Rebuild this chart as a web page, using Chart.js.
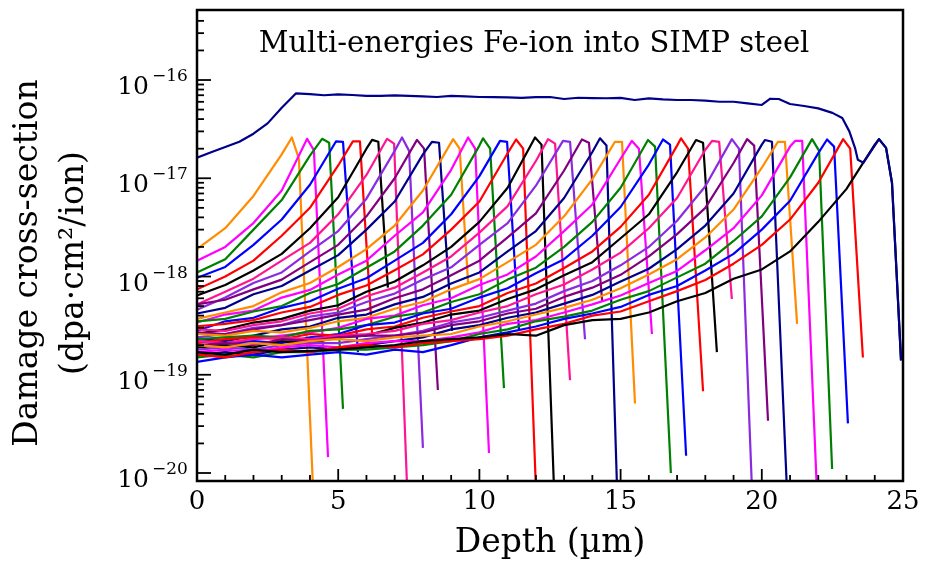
<!DOCTYPE html>
<html>
<head>
<meta charset="utf-8">
<script src="https://cdn.jsdelivr.net/npm/chart.js@4.4.1/dist/chart.umd.min.js"></script>
<style>
  html, body { margin: 0; padding: 0; background: #fff; }
  canvas { display: block; }
</style>
</head>
<body>
<canvas id="chart" width="930" height="567"></canvas>
<script>
// all damage values below are in units of 1e-19 dpa·cm²/ion
const UNIT = 1e-19;

const titleText = "Multi-energies Fe-ion into SIMP steel";
const xTitle = "Depth (µm)";
const yTitle = ["Damage cross-section", "(dpa·cm²/ion)"];
const xTickValues = [0, 5, 10, 15, 20, 25];
const yTickExponents = [-20, -19, -18, -17, -16];

// depth of the values in eNN arrays (µm)
const depthGrid = [0, 1, 2, 3, 4, 5, 6, 7, 8, 9, 10, 11, 12, 13, 14, 15, 16, 17, 18, 19, 20, 21, 22, 23, 24];

// single energy curves, before the Bragg peak
const e01 = [19, 31, 66, 175];
const e02 = [14.5, 20, 35, 75];
const e03 = [11, 15, 30, 60, 170];
const e04 = [9.7, 12.5, 21, 38, 86];
const e05 = [7.4, 10, 14.5, 26, 50, 135];
const e06 = [6.4, 8.2, 11.5, 17, 31, 64, 200];
const e07 = [5.2, 7.0, 9.5, 14.5, 22, 43, 108];
const e08 = [4.6, 6.1, 8.6, 11, 18, 29, 62, 190];
const e09 = [5.2, 5.8, 7.4, 9.3, 14, 21, 41, 100];
const e10 = [4.2, 4.8, 6.6, 8.0, 11.5, 16.5, 30, 58, 175];
const e11 = [3.7, 4.3, 5.0, 6.9, 8.6, 12.5, 19, 33, 75];
const e12 = [3.4, 4.1, 4.5, 6.1, 7.3, 10.5, 14.5, 26, 45, 122];
const e13 = [3.5, 3.7, 4.4, 5.0, 6.8, 8.4, 12.3, 18, 33, 68, 215];
const e14 = [2.8, 3.5, 3.8, 4.8, 5.6, 7.5, 9.6, 14.5, 22, 43, 105];
const e15 = [3.1, 3.3, 3.6, 4.3, 4.9, 6.5, 8.1, 11.6, 16.8, 30, 58, 180];
const e16 = [2.6, 2.9, 3.4, 3.7, 4.5, 5.1, 7.0, 8.9, 13, 20, 36, 80];
const e17 = [2.9, 2.8, 3.2, 3.5, 4.2, 4.7, 6.3, 7.7, 11, 16, 28, 52, 150];
const e18 = [2.4, 2.6, 3.0, 3.2, 3.9, 4.3, 5.5, 6.7, 9.3, 12.4, 21, 35, 84];
const e19 = [2.7, 2.6, 2.9, 3.2, 3.6, 4.1, 4.6, 6.0, 7.4, 10.3, 14.5, 25, 44, 120];
const e20 = [2.3, 2.2, 2.5, 2.9, 3.1, 3.8, 4.1, 5.2, 6.2, 8.5, 11, 18, 29, 63, 185];
const e21 = [2.6, 2.5, 2.8, 2.7, 3.0, 3.5, 3.8, 4.7, 5.5, 7.4, 9.4, 14, 21, 41, 98];
const e22 = [2.2, 2.1, 2.3, 2.5, 2.7, 3.0, 3.7, 4.0, 5.1, 6.0, 8.2, 10.5, 16, 29, 54, 158];
const e23 = [2.3, 2.4, 2.5, 2.4, 2.8, 2.9, 3.2, 3.9, 4.3, 5.5, 6.6, 9.3, 12.3, 20, 36, 80];
const e24 = [1.9, 2.1, 2.2, 2.1, 2.4, 2.6, 3.2, 3.4, 4.2, 4.7, 6.1, 7.6, 10.8, 15, 26, 51, 138];
const e25 = [2.1, 2.3, 2.4, 2.3, 2.6, 2.5, 2.9, 3.1, 3.8, 4.4, 5.0, 6.8, 8.5, 12.2, 18, 32, 68, 215];
const e26 = [1.9, 2.0, 1.9, 2.2, 2.1, 2.4, 2.5, 3.0, 3.4, 4.1, 4.5, 5.9, 7.4, 10.3, 14, 24.5, 43, 115];
const e27 = [2.2, 2.1, 2.3, 2.4, 2.3, 2.5, 2.6, 2.8, 3.3, 3.6, 4.3, 5.0, 6.6, 8.3, 11.8, 17.5, 31, 63, 195];
const e28 = [1.8, 1.9, 1.8, 2.0, 2.1, 2.1, 2.3, 2.5, 2.8, 3.4, 3.8, 4.5, 5.3, 7.1, 9.0, 13, 20, 37, 83];
const e29 = [2.0, 2.1, 2.0, 2.3, 2.2, 2.4, 2.5, 2.5, 2.7, 3.2, 3.5, 4.2, 4.7, 6.2, 7.7, 10.4, 16, 27, 50, 143];
const e30 = [1.6, 1.7, 1.6, 1.8, 1.9, 1.8, 2.0, 2.2, 2.4, 2.9, 3.2, 3.8, 4.3, 5.3, 6.5, 8.9, 12, 19, 33, 70, 220];
const e31 = [2.0, 1.9, 2.1, 2.0, 2.2, 2.3, 2.2, 2.4, 2.5, 2.6, 3.1, 3.5, 4.1, 4.8, 5.8, 7.6, 10.5, 15, 25, 48, 128];
const e32 = [1.7, 1.8, 1.7, 1.9, 2.0, 1.9, 2.1, 2.2, 2.2, 2.4, 2.7, 3.3, 3.6, 4.3, 5.2, 6.4, 8.6, 11.4, 18.5, 31, 67, 210];
const e33 = [1.5, 1.6, 1.5, 1.7, 1.7, 1.8, 1.8, 1.9, 2.0, 2.2, 2.6, 2.9, 3.5, 3.9, 4.5, 5.8, 7.1, 9.8, 13.5, 23, 41, 102];
const e34 = [1.35, 1.5, 1.6, 1.5, 1.6, 1.7, 1.6, 1.8, 1.7, 2.0, 2.4, 2.7, 3.1, 3.7, 4.2, 4.9, 6.5, 8.0, 11.5, 17, 30, 59, 180];
const e35 = [1.6, 1.5, 1.7, 1.8, 1.7, 1.9, 2.0, 1.9, 2.1, 2.2, 2.3, 2.5, 2.9, 3.3, 4.0, 4.4, 5.6, 7.1, 9.2, 13.5, 21, 38, 90];
const e36 = [1.7, 1.6, 1.8, 1.7, 1.75, 1.8, 1.9, 2.0, 2.2, 2.3, 2.4, 2.6, 2.5, 3.2, 3.6, 3.7, 4.3, 5.6, 6.8, 9.5, 11.8, 18, 36, 78, 220];

// peak and fall-off of each curve: depths (µm) and values
const tailDepth = [
  [3.36, 3.61, 4.13], [3.90, 4.14, 4.64], [4.43, 4.68, 5.17], [4.92, 5.17, 5.70],
  [5.52, 5.77, 6.20], [6.20, 6.42, 6.76], [6.73, 6.98, 7.46], [7.26, 7.51, 8.00],
  [7.79, 8.04, 8.53], [8.32, 8.57, 9.03], [9.07, 9.30, 9.60], [9.60, 9.85, 10.34],
  [10.13, 10.38, 10.87], [10.73, 10.98, 11.40], [11.30, 11.55, 12.02], [11.97, 12.20, 12.66],
  [12.43, 12.68, 13.21], [12.96, 13.21, 13.74], [13.63, 13.88, 14.35], [14.27, 14.50, 14.89],
  [14.80, 15.05, 15.51], [15.40, 15.65, 16.11], [15.97, 16.22, 16.78], [16.50, 16.75, 17.32],
  [17.14, 17.39, 17.92], [17.67, 17.92, 18.41], [18.24, 18.49, 18.94], [18.94, 19.19, 19.67],
  [19.48, 19.73, 20.22], [20.11, 20.36, 20.91], [20.57, 20.82, 21.25], [21.18, 21.43, 21.97],
  [21.78, 22.03, 22.49], [22.31, 22.56, 23.05], [22.88, 23.13, 23.58], [24.15, 24.40, 24.61, 24.82, 24.93]
];
const tailValue = [
  [260, 157, 0.05], [252, 193, 0.145], [252, 230, 0.45], [237, 235, 1.7],
  [237, 237, 2.6], [246, 235, 7.7], [252, 225, 0.05], [260, 190, 0.18],
  [246, 200, 0.70], [235, 230, 2.8], [250, 200, 8.6], [260, 200, 0.16],
  [255, 200, 0.73], [240, 235, 2.9], [248, 200, 0.05], [260, 220, 0.05],
  [250, 225, 0.88], [240, 235, 2.3], [248, 230, 5.5], [255, 215, 0.05],
  [235, 235, 0.51], [240, 200, 2.6], [245, 210, 0.10], [248, 220, 0.15],
  [255, 200, 0.68], [245, 230, 1.7], [240, 235, 5.9], [250, 200, 0.05],
  [250, 215, 0.34], [245, 235, 0.05], [235, 235, 3.3], [240, 240, 0.05],
  [250, 190, 0.11], [248, 210, 0.32], [250, 200, 1.5], [250, 204, 90, 5.9, 1.4]
];

// summed multi-energy profile
const envDepth = [0, 0.5, 1, 1.5, 2, 2.5, 3, 3.5, 4, 4.5, 5, 5.5, 6, 6.5, 7, 7.5, 8, 8.5, 9, 9.5,
  10, 10.5, 11, 11.5, 12, 12.5, 13, 13.5, 14, 14.5, 15, 15.5, 16, 16.5, 17, 17.5, 18, 18.5, 19, 19.5,
  20, 20.3, 20.6, 21, 21.5, 22, 22.5, 22.85, 23.1, 23.3, 23.4, 23.6, 24.15, 24.4, 24.61, 24.82, 24.93];
const envValue = [162, 184, 208, 235, 284, 362, 522, 730, 720, 700, 715, 704, 690, 688, 698, 690, 680, 672, 688, 680,
  672, 670, 667, 657, 670, 672, 641, 660, 655, 652, 657, 626, 650, 634, 626, 626, 616, 601, 601, 578,
  557, 645, 641, 570, 544, 515, 463, 411, 300, 204, 154, 144, 250, 204, 90, 5.9, 1.4];

const curves = [e01, e02, e03, e04, e05, e06, e07, e08, e09, e10, e11, e12, e13, e14, e15, e16, e17, e18,
  e19, e20, e21, e22, e23, e24, e25, e26, e27, e28, e29, e30, e31, e32, e33, e34, e35, e36];

const palette = ["#ff8c00", "#ff00ff", "#008000", "#0000ff", "#ff0000",
  "#000000", "#ff1493", "#8a2be2", "#800080", "#00008b"];

const Y_MIN = 8.29e-21;
const Y_MAX = 5.16e-16;
const FONT = "'DejaVu Serif', serif";

const datasets = curves.map((vals, k) => {
  const pts = vals.map((v, i) => ({ x: depthGrid[i], y: v * UNIT }));
  tailDepth[k].forEach((d, j) => pts.push({ x: d, y: tailValue[k][j] * UNIT }));
  return {
    data: pts,
    borderColor: palette[k % palette.length],
    borderWidth: 2.2,
    order: 100 - k,
  };
});
datasets.push({
  data: envDepth.map((d, i) => ({ x: d, y: envValue[i] * UNIT })),
  borderColor: "#00008b",
  borderWidth: 2.2,
  order: -1,
});

function seg(ctx, x1, y1, x2, y2) {
  ctx.beginPath();
  ctx.moveTo(x1, y1);
  ctx.lineTo(x2, y2);
  ctx.stroke();
}

const axesPlugin = {
  id: "axesPlugin",
  beforeDraw(chart) {
    const ctx = chart.ctx;
    ctx.save();
    ctx.fillStyle = "#fff";
    ctx.fillRect(0, 0, chart.width, chart.height);
    ctx.restore();
  },
  afterDraw(chart) {
    const ctx = chart.ctx;
    const a = chart.chartArea;
    const xs = chart.scales.x;
    const ys = chart.scales.y;
    ctx.save();
    ctx.strokeStyle = "#000";
    ctx.fillStyle = "#000";

    // ticks, pointing inwards
    ctx.lineWidth = 1.8;
    for (let e = -21; e <= -16; e++) {
      for (let m = 1; m <= 9; m++) {
        const v = m * Math.pow(10, e);
        if (v < Y_MIN || v > Y_MAX) continue;
        const py = ys.getPixelForValue(v);
        if (py > a.bottom - 5 || py < a.top + 4) continue;
        seg(ctx, a.left, py, a.left + (m === 1 ? 14 : 7), py);
      }
    }
    for (let d = 0; d <= 25; d++) {
      const px = xs.getPixelForValue(d);
      seg(ctx, px, a.bottom, px, a.bottom - (d % 5 === 0 ? 12 : 6));
    }

    // frame
    ctx.lineWidth = 2.5;
    ctx.strokeRect(a.left, a.top, a.right - a.left, a.bottom - a.top);

    // y tick labels 10^n
    yTickExponents.forEach((e) => {
      const py = ys.getPixelForValue(Math.pow(10, e));
      ctx.font = "25px " + FONT;
      ctx.textAlign = "right";
      ctx.textBaseline = "alphabetic";
      ctx.fillText("10", a.left - 48, py + 14);
      ctx.font = "17px " + FONT;
      ctx.textAlign = "left";
      ctx.fillText("\u2212" + Math.abs(e), a.left - 45, py + 1);
    });

    // x tick labels
    ctx.font = "26px " + FONT;
    ctx.textAlign = "center";
    xTickValues.forEach((v) => {
      ctx.fillText(String(v), xs.getPixelForValue(v), a.bottom + 28);
    });

    // axis titles
    ctx.font = "33px " + FONT;
    ctx.fillText(xTitle, (a.left + a.right) / 2, a.bottom + 71);
    ctx.save();
    ctx.translate(0, 263);
    ctx.rotate(-Math.PI / 2);
    ctx.fillText(yTitle[0], 0, 37);
    ctx.fillText(yTitle[1], 0, 83);
    ctx.restore();

    // in-plot title
    ctx.font = "29px " + FONT;
    ctx.textAlign = "center";
    ctx.fillText(titleText, 534, a.top + 42);
    ctx.restore();
  },
};

new Chart(document.getElementById("chart"), {
  type: "line",
  data: { datasets },
  options: {
    animation: false,
    responsive: false,
    devicePixelRatio: 1,
    layout: { padding: { top: 10, right: 27, left: 0, bottom: 0 } },
    plugins: { legend: { display: false }, tooltip: { enabled: false } },
    elements: {
      point: { radius: 0 },
      line: { tension: 0, borderJoinStyle: "round", borderCapStyle: "butt", fill: false },
    },
    scales: {
      x: {
        type: "linear",
        min: 0,
        max: 25,
        grid: { display: false },
        border: { display: false },
        ticks: { display: false },
        afterFit: (s) => { s.height = 86; },
      },
      y: {
        type: "logarithmic",
        min: Y_MIN,
        max: Y_MAX,
        grid: { display: false },
        border: { display: false },
        ticks: { display: false },
        afterFit: (s) => { s.width = 197; },
      },
    },
  },
  plugins: [axesPlugin],
});
</script>
</body>
</html>
